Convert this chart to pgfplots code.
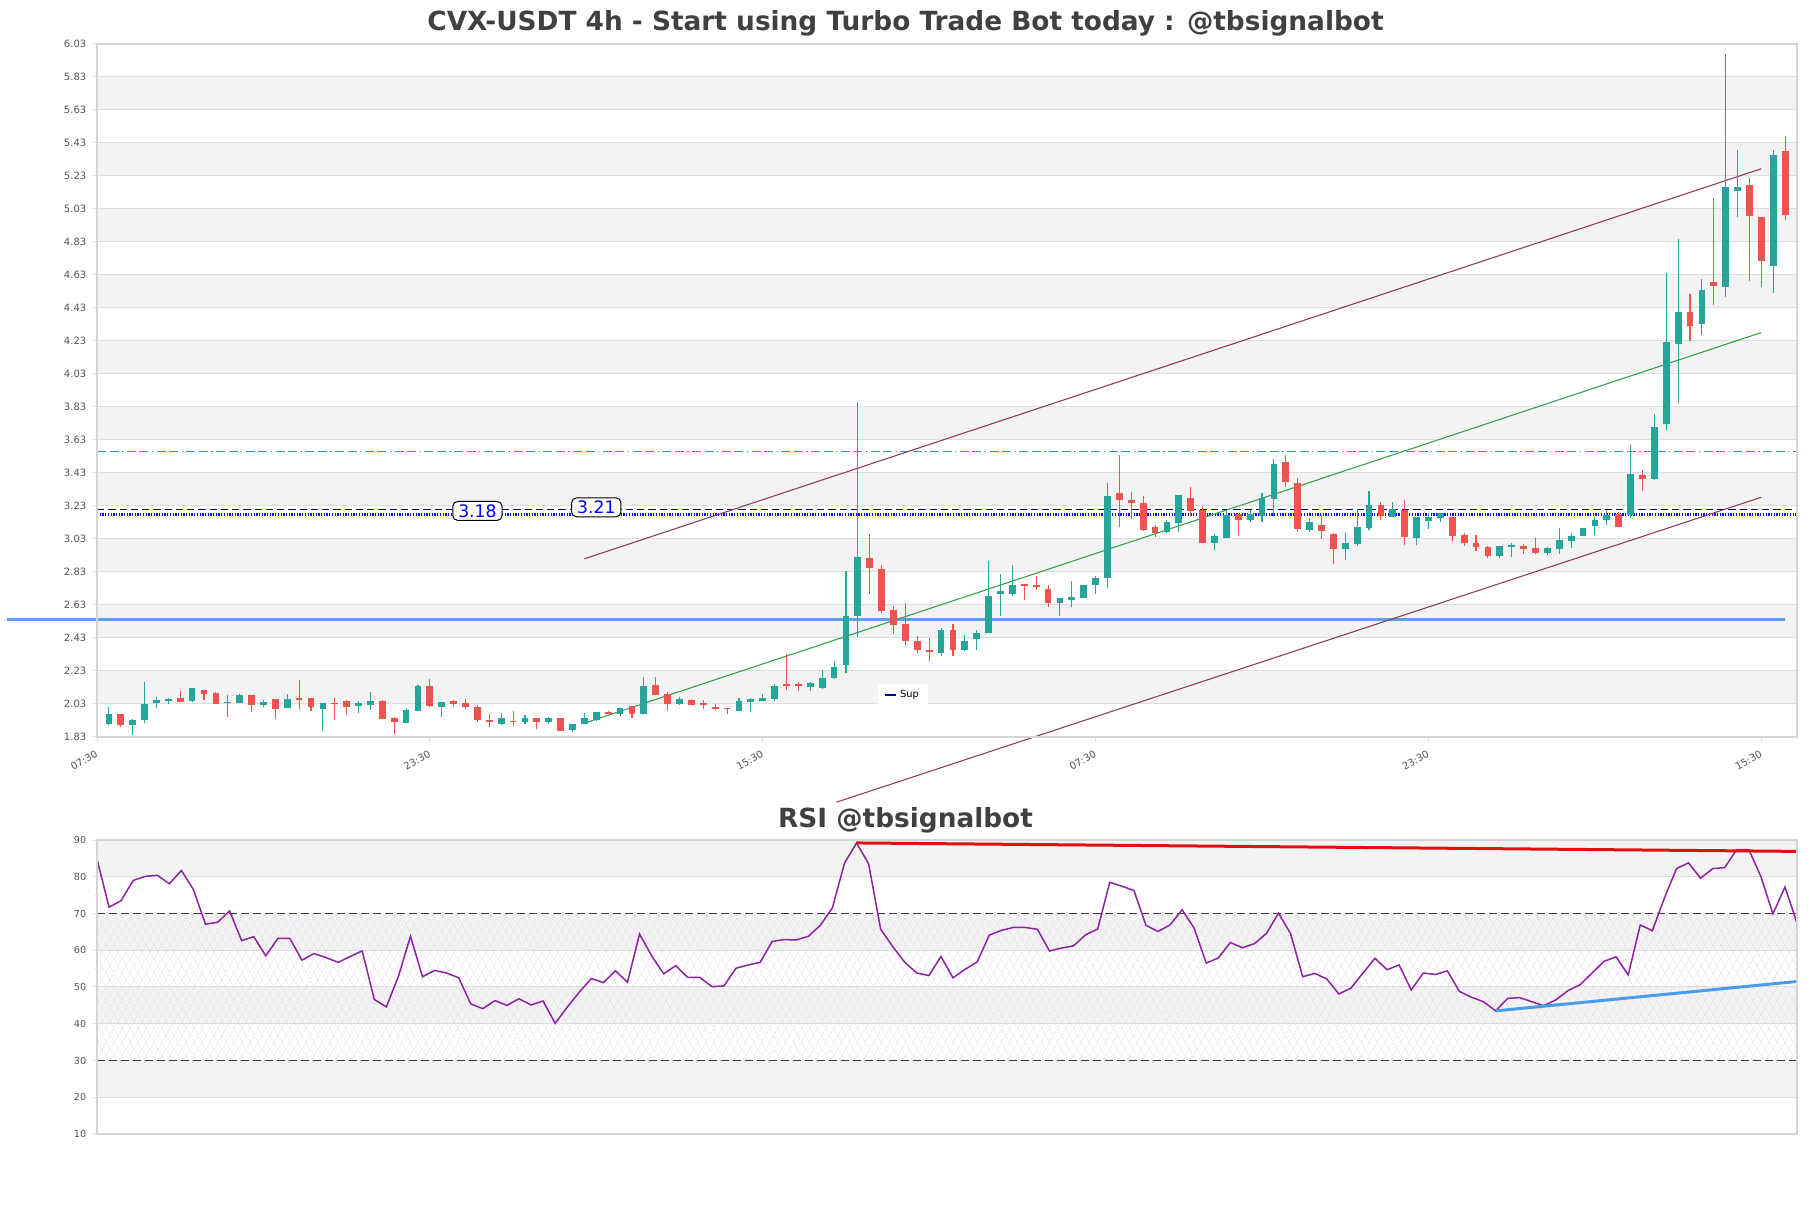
\documentclass[border=0pt]{standalone}
\usepackage{fontspec}
\setmainfont{DejaVu Sans}
\usepackage{pgfplots}
\usepackage{pgfplotstable}
\pgfplotsset{compat=1.18}
\usetikzlibrary{patterns.meta}
\definecolor{cup}{RGB}{38,166,154}
\definecolor{cdn}{RGB}{239,83,80}
\definecolor{band}{RGB}{243,243,243}
\definecolor{gridc}{RGB}{222,222,222}
\definecolor{framec}{RGB}{212,212,212}
\definecolor{tickc}{RGB}{85,85,85}
\definecolor{titc}{RGB}{64,64,64}
\definecolor{navyd}{RGB}{0,0,150}
\definecolor{dotb}{RGB}{10,10,230}
\definecolor{dashb}{RGB}{40,150,220}
\definecolor{supb}{RGB}{96,160,236}
\definecolor{chan}{RGB}{140,64,96}
\definecolor{mid}{RGB}{56,160,80}
\definecolor{rsic}{RGB}{140,36,160}
\definecolor{rsired}{RGB}{228,16,16}
\definecolor{rsiblue}{RGB}{72,156,236}
\definecolor{hatch}{RGB}{222,206,232}
\definecolor{dashc}{RGB}{60,60,60}

% 4h candles, x = candle index (axis starts one slot before the first candle)
\pgfplotstableread{
x o h l c
1 1.911 2.010 1.905 1.969
3 1.905 1.937 1.844 1.933
4 1.935 2.163 1.913 2.030
5 2.038 2.072 2.008 2.056
6 2.050 2.064 2.028 2.060
8 2.048 2.125 2.044 2.125
11 2.038 2.083 1.953 2.042
12 2.038 2.093 2.038 2.087
14 2.026 2.056 2.010 2.042
16 2.008 2.091 2.004 2.060
19 2.002 2.038 1.868 2.038
22 2.016 2.050 1.973 2.038
23 2.026 2.100 1.996 2.048
26 1.917 2.008 1.917 1.994
27 1.990 2.145 1.990 2.141
29 2.014 2.042 1.953 2.042
34 1.911 1.977 1.903 1.945
36 1.923 1.963 1.909 1.945
38 1.923 1.949 1.909 1.943
40 1.870 1.911 1.860 1.911
41 1.907 1.975 1.907 1.947
42 1.933 1.984 1.925 1.984
44 1.971 2.008 1.955 2.008
46 1.971 2.196 1.971 2.139
49 2.030 2.072 2.026 2.062
54 1.986 2.066 1.986 2.048
55 2.040 2.066 1.980 2.060
56 2.046 2.093 2.046 2.068
57 2.060 2.149 2.046 2.137
60 2.135 2.165 2.111 2.155
61 2.129 2.238 2.123 2.190
62 2.190 2.290 2.182 2.256
63 2.264 2.836 2.218 2.563
64 2.561 3.860 2.434 2.921
71 2.339 2.491 2.319 2.481
73 2.355 2.446 2.349 2.414
74 2.424 2.480 2.355 2.460
75 2.463 2.899 2.463 2.686
76 2.694 2.820 2.566 2.716
77 2.694 2.874 2.682 2.749
81 2.643 2.672 2.566 2.672
82 2.662 2.775 2.615 2.680
83 2.670 2.753 2.670 2.753
84 2.749 2.803 2.698 2.795
85 2.791 3.367 2.730 3.288
90 3.075 3.148 3.065 3.130
91 3.124 3.294 3.075 3.294
94 3.006 3.063 2.961 3.047
95 3.034 3.203 3.034 3.178
97 3.144 3.203 3.132 3.184
98 3.172 3.310 3.132 3.280
99 3.271 3.513 3.168 3.482
102 3.083 3.158 3.071 3.130
105 2.970 3.067 2.900 3.008
106 2.998 3.213 2.986 3.103
107 3.095 3.318 3.087 3.239
109 3.164 3.253 3.164 3.209
111 3.036 3.161 2.994 3.161
112 3.140 3.188 3.092 3.161
113 3.157 3.186 3.132 3.186
118 2.928 2.990 2.917 2.990
119 2.980 3.007 2.920 2.994
122 2.944 2.980 2.932 2.974
123 2.969 3.099 2.938 3.021
124 3.015 3.069 2.978 3.046
125 3.048 3.099 3.048 3.099
126 3.109 3.161 3.052 3.147
127 3.144 3.207 3.115 3.178
129 3.173 3.602 3.157 3.421
131 3.394 3.790 3.388 3.711
132 3.725 4.641 3.690 4.225
133 4.214 4.847 3.854 4.406
135 4.333 4.608 4.267 4.541
137 4.558 5.972 4.494 5.162
138 5.141 5.390 4.981 5.162
141 4.685 5.389 4.521 5.357
}\candlesup

\pgfplotstableread{
x o h l c
2 1.969 1.969 1.889 1.905
7 2.066 2.107 2.044 2.044
9 2.115 2.115 2.054 2.093
10 2.097 2.103 2.030 2.030
13 2.087 2.087 1.984 2.026
15 2.060 2.060 1.941 2.002
17 2.066 2.173 2.002 2.054
18 2.064 2.064 1.988 2.014
20 2.038 2.066 1.935 2.028
21 2.050 2.056 1.965 2.014
24 2.048 2.054 1.941 1.941
25 1.945 1.953 1.846 1.923
28 2.139 2.180 2.010 2.020
30 2.050 2.054 2.010 2.032
31 2.034 2.058 1.998 2.014
32 2.012 2.024 1.921 1.935
33 1.933 1.967 1.889 1.923
35 1.929 1.987 1.895 1.923
37 1.945 1.945 1.880 1.923
39 1.945 1.945 1.864 1.868
43 1.984 1.988 1.967 1.971
45 2.016 2.016 1.947 1.971
47 2.147 2.194 2.083 2.083
48 2.093 2.103 1.986 2.030
50 2.052 2.062 2.022 2.026
51 2.034 2.052 1.999 2.024
52 2.014 2.028 1.992 2.002
53 2.004 2.006 1.969 1.998
58 2.153 2.333 2.113 2.137
59 2.153 2.163 2.107 2.137
65 2.915 3.062 2.697 2.852
66 2.848 2.874 2.582 2.596
67 2.602 2.622 2.452 2.509
68 2.515 2.642 2.390 2.410
69 2.414 2.440 2.339 2.355
70 2.359 2.430 2.289 2.343
72 2.481 2.515 2.319 2.359
78 2.759 2.759 2.662 2.743
79 2.753 2.807 2.722 2.737
80 2.728 2.753 2.615 2.643
86 3.306 3.537 3.101 3.265
87 3.269 3.312 3.152 3.247
88 3.251 3.288 3.077 3.087
89 3.103 3.117 3.040 3.067
92 3.276 3.347 3.168 3.197
93 3.203 3.229 3.004 3.004
96 3.184 3.184 3.057 3.144
100 3.497 3.541 3.346 3.377
101 3.371 3.401 3.073 3.089
103 3.115 3.178 3.032 3.077
104 3.063 3.067 2.876 2.970
108 3.239 3.257 3.148 3.172
110 3.203 3.265 2.994 3.042
114 3.165 3.165 3.019 3.048
115 3.052 3.069 2.990 3.007
116 3.003 3.052 2.959 2.980
117 2.980 2.990 2.913 2.924
120 2.986 3.000 2.942 2.969
121 2.974 3.036 2.940 2.944
128 3.182 3.195 3.105 3.105
130 3.415 3.448 3.323 3.392
134 4.406 4.514 4.229 4.318
136 4.587 5.097 4.448 4.564
139 5.174 5.218 4.593 4.987
140 4.981 4.981 4.558 4.714
142 5.380 5.472 4.964 4.993
}\candlesdn

% RSI, one value per candle, spread edge to edge
\pgfplotstableread{
x r
0 84.8
1 71.7
2 73.5
3 79.0
4 80.1
5 80.4
6 78.1
7 81.7
8 76.5
9 67.1
10 67.6
11 70.7
12 62.6
13 63.7
14 58.5
15 63.2
16 63.2
17 57.3
18 59.1
19 58.0
20 56.7
21 58.3
22 59.8
23 46.6
24 44.6
25 52.9
26 63.8
27 52.8
28 54.5
29 53.8
30 52.5
31 45.4
32 44.1
33 46.3
34 45.0
35 46.8
36 45.1
37 46.2
38 40.1
39 44.5
40 48.6
41 52.3
42 51.2
43 54.4
44 51.3
45 64.4
46 58.5
47 53.6
48 55.8
49 52.6
50 52.6
51 50.1
52 50.3
53 55.1
54 56.0
55 56.7
56 62.4
57 62.9
58 62.8
59 63.8
60 66.8
61 71.6
62 83.7
63 89.2
64 83.5
65 65.7
66 61.0
67 56.7
68 53.8
69 53.1
70 58.3
71 52.5
72 54.8
73 56.8
74 64.1
75 65.4
76 66.2
77 66.2
78 65.7
79 59.8
80 60.6
81 61.2
82 64.2
83 65.8
84 78.5
85 77.4
86 76.3
87 66.8
88 65.1
89 66.9
90 71.0
91 66.0
92 56.5
93 57.9
94 62.1
95 60.7
96 61.8
97 64.6
98 70.1
99 64.5
100 52.8
101 53.7
102 52.2
103 48.1
104 49.7
105 53.8
106 57.8
107 54.7
108 56.0
109 49.2
110 53.8
111 53.4
112 54.4
113 48.8
114 47.2
115 46.0
116 43.5
117 46.9
118 47.1
119 46.0
120 44.9
121 46.5
122 49.0
123 50.6
124 53.8
125 57.0
126 58.2
127 53.3
128 66.9
129 65.3
130 74.2
131 82.2
132 83.8
133 79.6
134 82.2
135 82.5
136 87.4
137 87.4
138 80.1
139 69.9
140 77.2
141 67.4
}\rsidata

\pgfplotsset{
  panel/.style={
    scale only axis, clip=false, enlargelimits=false, axis on top,
    axis line style={draw=framec, line width=0.25mm},
    tick style={draw=gridc, line width=0.2mm},
    tick align=outside, tick pos=left,
    major tick length=0.9mm, minor tick length=0.5mm,
    ticklabel style={font=\fontsize{5.7}{6.8}\selectfont, text=tickc},
  },
  wick/.style={forget plot, draw=none, mark=none,
    error bars/.cd, y dir=plus, y explicit, error mark=none,
    error bar style={draw=#1, line width=0.22mm}},
  body/.style={forget plot, draw=none, mark=none,
    error bars/.cd, y dir=plus, y explicit, error mark=none,
    error bar style={draw=#1, line width=1.35mm}},
  hline/.style={forget plot, no markers},
}
\tikzset{gline/.style={draw=gridc, line width=0.2mm}}

\begin{document}
\begin{tikzpicture}
\path[use as bounding box] (0,0) rectangle (36.22cm,24.16cm);
\node[font=\fontsize{15}{18}\selectfont\bfseries, text=titc] at (18.11cm,23.70cm)
  {CVX-USDT 4h - Start using Turbo Trade Bot today : @tbsignalbot};
\node[font=\fontsize{15}{18}\selectfont\bfseries, text=titc] at (18.11cm,7.76cm)
  {RSI @tbsignalbot};

% price panel
\begin{axis}[panel, at={(1.94cm,9.42cm)}, anchor=south west,
  width=34cm, height=13.86cm,
  xmin=0, xmax=143, ymin=1.83, ymax=6.03,
  xtick={0,28,56,84,112,140},
  xticklabels={07:30,23:30,15:30,07:30,23:30,15:30},
  xticklabel style={rotate=30, anchor=north east},
  ytick={1.83,2.03,2.23,2.43,2.63,2.83,3.03,3.23,3.43,3.63,3.83,4.03,4.23,4.43,4.63,4.83,5.03,5.23,5.43,5.63,5.83,6.03},
  yticklabels={1.83,2.03,2.23,2.43,2.63,2.83,3.03,3.23,3.43,3.63,3.83,4.03,4.23,4.43,4.63,4.83,5.03,5.23,5.43,5.63,5.83,6.03},
  legend style={at={(0.459,0.043)}, anchor=south west, draw=none, fill=white,
    font=\fontsize{5.6}{6.5}\selectfont, inner xsep=1.2mm, inner ysep=0.6mm},
  legend image code/.code={\draw[#1] (0cm,0cm) -- (0.22cm,0cm);},
]
\fill[band] (axis cs:0,2.03) rectangle (axis cs:143,2.23);
\fill[band] (axis cs:0,2.43) rectangle (axis cs:143,2.63);
\fill[band] (axis cs:0,2.83) rectangle (axis cs:143,3.03);
\fill[band] (axis cs:0,3.23) rectangle (axis cs:143,3.43);
\fill[band] (axis cs:0,3.63) rectangle (axis cs:143,3.83);
\fill[band] (axis cs:0,4.03) rectangle (axis cs:143,4.23);
\fill[band] (axis cs:0,4.43) rectangle (axis cs:143,4.63);
\fill[band] (axis cs:0,4.83) rectangle (axis cs:143,5.03);
\fill[band] (axis cs:0,5.23) rectangle (axis cs:143,5.43);
\fill[band] (axis cs:0,5.63) rectangle (axis cs:143,5.83);
\pgfplotsinvokeforeach{2.03,2.23,2.43,2.63,2.83,3.03,3.23,3.43,3.63,3.83,4.03,4.23,4.43,4.63,4.83,5.03,5.23,5.43,5.63,5.83}{
  \draw[gline] (axis cs:0,#1) -- (axis cs:143,#1);
}

% levels
\addplot[hline, draw=dashb, line width=0.22mm,
  dash pattern=on 1.8mm off 0.7mm on 1.8mm off 0.7mm on 0.25mm off 0.7mm]
  coordinates {(0,3.56) (143,3.56)};
\addplot[hline, draw=navyd, line width=0.24mm, dash pattern=on 1.45mm off 0.8mm]
  coordinates {(0,3.21) (143,3.21)};
\addplot[hline, draw=dotb, line width=0.45mm, dash pattern=on 0.26mm off 0.28mm]
  coordinates {(0,3.178) (143,3.178)};
\addplot[hline, draw=supb, line width=0.65mm]
  coordinates {(-7.6,2.54) (142,2.54)};

% channel
\addplot[hline, draw=chan, line width=0.22mm] coordinates {(41,2.91) (140,5.274)};
\addplot[hline, draw=mid, line width=0.22mm] coordinates {(41,1.914) (140,4.281)};
\addplot[hline, draw=chan, line width=0.22mm] coordinates {(62.2,1.435) (140,3.283)};

% candles
\addplot[wick=cup] table[x=x, y=l, y error expr=\thisrow{h}-\thisrow{l}] {\candlesup};
\addplot[wick=cdn] table[x=x, y=l, y error expr=\thisrow{h}-\thisrow{l}] {\candlesdn};
\addplot[body=cup] table[x=x, y=o, y error expr=\thisrow{c}-\thisrow{o}] {\candlesup};
\addplot[body=cdn] table[x=x, y=c, y error expr=\thisrow{o}-\thisrow{c}] {\candlesdn};

\node[draw=black, fill=white, rounded corners=1mm, line width=0.2mm, text=blue,
  font=\fontsize{9.8}{10}\selectfont, inner xsep=1.1mm, inner ysep=0.6mm] at (axis cs:32,3.20) {3.18};
\node[draw=black, fill=white, rounded corners=1mm, line width=0.2mm, text=blue,
  font=\fontsize{9.8}{10}\selectfont, inner xsep=1.1mm, inner ysep=0.6mm] at (axis cs:42,3.222) {3.21};

\addlegendimage{draw=navyd, line width=0.4mm}
\addlegendentry{Sup}
\end{axis}

% RSI panel
\begin{axis}[panel, at={(1.94cm,1.48cm)}, anchor=south west,
  width=34cm, height=5.88cm,
  xmin=0, xmax=141, ymin=10, ymax=90, xtick=\empty,
  ytick={10,20,30,40,50,60,70,80,90},
  yticklabels={10,20,30,40,50,60,70,80,90},
  minor ytick={15,25,35,45,55,65,75,85},
  ticklabel style={font=\fontsize{5.5}{6.5}\selectfont},
]
\fill[band] (axis cs:0,80) rectangle (axis cs:141,90);
\fill[band] (axis cs:0,60) rectangle (axis cs:141,70);
\fill[band] (axis cs:0,40) rectangle (axis cs:141,50);
\fill[band] (axis cs:0,20) rectangle (axis cs:141,30);
\fill[pattern={Lines[angle=60,distance=4pt,line width=0.25pt]}, pattern color=hatch]
  (axis cs:0,30) rectangle (axis cs:141,70);
\fill[pattern={Lines[angle=-60,distance=4pt,line width=0.25pt]}, pattern color=hatch]
  (axis cs:0,30) rectangle (axis cs:141,70);
\pgfplotsinvokeforeach{20,40,50,60,80}{
  \draw[gline] (axis cs:0,#1) -- (axis cs:141,#1);
}
\addplot[hline, draw=dashc, line width=0.25mm, dash pattern=on 1.6mm off 0.8mm]
  coordinates {(0,70) (141,70)};
\addplot[hline, draw=dashc, line width=0.25mm, dash pattern=on 1.6mm off 0.8mm]
  coordinates {(0,30) (141,30)};
\addplot[hline, draw=rsic, line width=0.3mm] table[x=x, y=r] {\rsidata};
\addplot[hline, draw=rsired, line width=0.6mm] coordinates {(63,89.2) (141,86.9)};
\addplot[hline, draw=rsiblue, line width=0.6mm] coordinates {(116,43.5) (141,51.5)};
\end{axis}
\end{tikzpicture}
\end{document}
